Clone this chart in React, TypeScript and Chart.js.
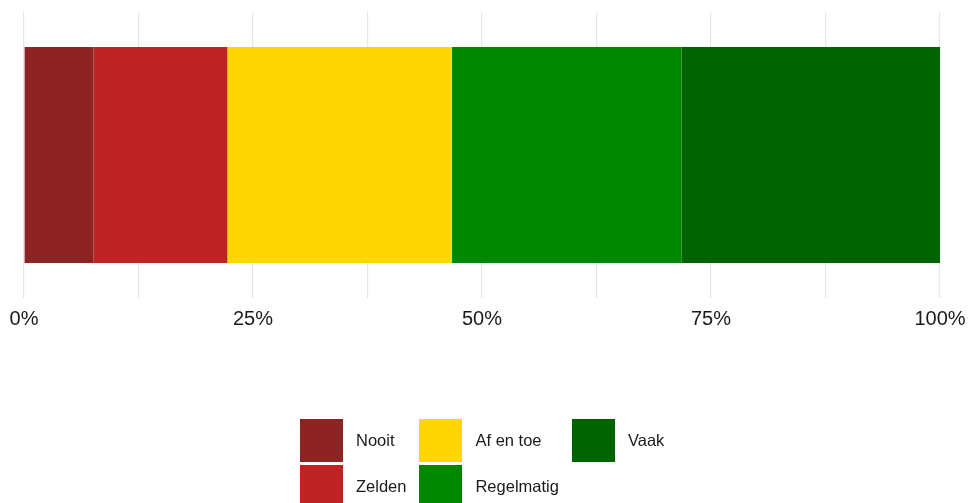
import React, { useEffect, useRef } from "react";
import { Chart, registerables } from "chart.js";

Chart.register(...registerables);

const categories = ["Q"];
const seriesNames = ["Nooit", "Zelden", "Af en toe", "Regelmatig", "Vaak"];
const seriesValues = [7.6, 14.6, 24.5, 25.1, 28.2];
const seriesColors = ["#8E2323", "#C02323", "#FFD700", "#008700", "#006400"];
const tickLabels = ["0%", "25%", "50%", "75%", "100%"];

const FONT = "'Liberation Sans', Arial, sans-serif";

export default function App() {
  const ref = useRef<HTMLCanvasElement | null>(null);

  useEffect(() => {
    if (!ref.current) return;
    const chart = new Chart(ref.current, {
      type: "bar",
      data: {
        labels: categories,
        datasets: seriesNames.map((name, i) => ({
          label: name,
          data: [seriesValues[i]],
          backgroundColor: seriesColors[i],
          borderWidth: 0,
          barPercentage: 1,
          categoryPercentage: 0.755,
        })),
      },
      options: {
        indexAxis: "y",
        animation: false,
        responsive: false,
        maintainAspectRatio: false,
        layout: { padding: { left: 24, right: 28, top: 12, bottom: 0 } },
        plugins: { legend: { display: false }, tooltip: { enabled: false } },
        scales: {
          x: {
            stacked: true,
            min: 0,
            max: 100,
            border: { display: false },
            grid: { color: "#E6E6E6", lineWidth: 1.2, drawTicks: false },
            afterFit: (scale: any) => {
              scale.paddingLeft = 0;
              scale.paddingRight = 0;
            },
            ticks: {
              stepSize: 12.5,
              padding: 9,
              maxRotation: 0,
              autoSkip: false,
              color: "#1A1A1A",
              font: { family: FONT, size: 20 },
              callback: (v: any) => {
                const n = Number(v);
                if (n % 25 !== 0) return "";
                return tickLabels[n / 25];
              },
            },
          },
          y: {
            stacked: true,
            display: false,
          },
        },
      },
    });
    return () => chart.destroy();
  }, []);

  return (
    <div style={{ position: "fixed", left: 0, top: 0, width: 968, height: 503, background: "#fff" }}>
      <canvas ref={ref} width={968} height={340} style={{ position: "absolute", left: 0, top: 0, width: 968, height: 340 }} />
      <div
        style={{
          position: "absolute",
          left: 300,
          top: 419,
          display: "grid",
          gridTemplateRows: "43px 43px",
          gridAutoFlow: "column",
          columnGap: 13,
          rowGap: 3,
          fontFamily: FONT,
          fontSize: 16.5,
          color: "#1A1A1A",
        }}
      >
        {seriesNames.map((name, i) => (
          <div key={name} style={{ display: "flex", alignItems: "center" }}>
            <div style={{ width: 43, height: 43, background: seriesColors[i], marginRight: 13 }} />
            <span>{name}</span>
          </div>
        ))}
      </div>
    </div>
  );
}
